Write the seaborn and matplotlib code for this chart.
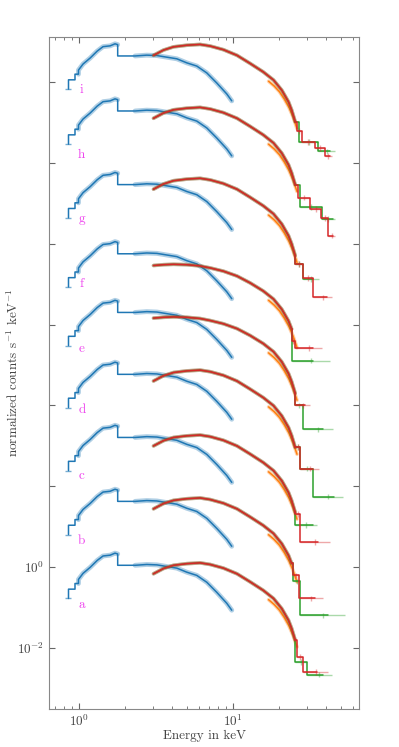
import numpy as np
import matplotlib
matplotlib.use("Agg")
import matplotlib.pyplot as plt
import seaborn as sns

labels = list("abcdefghi")
# log10 shift of every spectrum relative to spectrum a
soft_shift = [0.0, 1.58, 3.16, 4.72, 6.25, 7.70, 9.41, 11.23, 12.59]
hard_shift = [0.0, 1.605, 3.16, 4.765, 6.10, 7.40, 9.506, 11.259, 12.815]
hard_shape = [0, 0, 0, 0, 1, 1, 0, 0, 0]   # which continuum shape each spectrum follows
label_logy = [-0.94, 0.64, 2.25, 3.88, 5.41, 7.01, 8.62, 10.20, 11.80]

# soft band model of spectrum a (keV, log10 counts)
soft_E = [0.853, 0.853, 0.94, 0.94, 0.99, 0.99, 1.06, 1.18, 1.31, 1.43, 1.59, 1.71,
          1.78, 1.78, 2.31, 2.75, 3.2, 3.71, 4.31, 5.0, 5.81, 6.75, 7.84, 9.1, 9.8]
soft_logF = [-0.77, -0.54, -0.54, -0.40, -0.40, -0.30, -0.15, 0.0, 0.17, 0.28, 0.30, 0.35,
             0.33, 0.05, 0.05, 0.07, 0.06, 0.02, -0.02, -0.12, -0.20, -0.37, -0.62, -0.89, -1.06]

# hard band continuum: hard spectra (a-d, g-i) and softer ones (e, f)
hard_E = [3.04, 3.53, 4.1, 5.0, 6.1, 7.1, 8.65, 10.6, 12.9, 15.7, 18.3, 20.7, 22.9, 24.0, 25.3]
hard_logF = [
    [-0.16, -0.03, 0.05, 0.09, 0.11, 0.07, -0.02, -0.16, -0.36, -0.57, -0.77,
     -1.02, -1.31, -1.51, -1.80],
    [0.06, 0.08, 0.09, 0.08, 0.05, 0.0, -0.08, -0.20, -0.37, -0.57, -0.77,
     -1.02, -1.31, -1.51, -1.80],
]
orange_E = [17.0, 18.5, 20.0, 21.5, 23.0, 24.5, 26.0]
orange_logF = [-0.80, -0.92, -1.06, -1.24, -1.44, -1.68, -1.97]

# high energy bins: edges (keV), log10 values, reach of last error bar
green_edges = [[25.3, 30.1, 38.6], [24.5, 27.2, 41.4], [25.3, 33.2], [25.3, 27.2, 33.2, 45.3],
               [25.3, 28.6, 38.6], [24.0, 33.2], [25.3, 28.6, 33.2], [27.2, 37.7, 44.8],
               [26.8, 35.6, 42.6]]
green_vals = [[-2.34, -2.65], [-0.35, -1.19], [1.04], [2.97, 2.44, 1.75],
              [4.0, 3.41], [5.11], [7.50, 7.13], [8.91, 8.61], [10.51, 10.28]]
green_end = [43.7, 53.4, 35.0, 51.8, 44.8, 42.6, 36.0, 45.9, 45.9]
red_edges = [[26.0, 28.6, 35.0], [24.5, 26.8, 34.1], [25.3, 27.2, 35.8], [25.3, 27.2, 33.2],
             [25.3, 29.4], [24.0, 25.3, 33.2], [25.3, 28.6, 33.2, 40.6],
             [26.5, 31.6, 37.3, 41.6, 44.8], [26.0, 27.9, 34.1, 39.6, 42.6]]
red_vals = [[-2.22, -2.59], [-0.20, -0.77], [1.31, 0.63], [2.97, 2.44],
            [4.0], [5.60, 5.42], [7.50, 7.15, 6.67],
            [9.14, 8.86, 8.63, 8.20], [10.79, 10.52, 10.37, 10.17]]
red_end = [41.4, 38.4, 42.6, 36.2, 31.6, 37.7, 43.7, 46.0, 43.7]

blue, orange, green, red = "#1f77b4", "#ff7f0e", "#2ca02c", "#d62728"

sns.set_style("ticks", {"xtick.direction": "in", "ytick.direction": "in"})
plt.rcParams["font.family"] = "serif"
plt.rcParams["font.serif"] = ["cmr10"]
plt.rcParams["mathtext.fontset"] = "cm"
plt.rcParams["axes.formatter.use_mathtext"] = True
plt.rcParams["axes.edgecolor"] = "#888888"
plt.rcParams["text.color"] = "#444444"
plt.rcParams["axes.labelcolor"] = "#444444"
plt.rcParams["xtick.color"] = "#666666"
plt.rcParams["ytick.color"] = "#666666"
plt.rcParams["xtick.labelcolor"] = "#444444"
plt.rcParams["ytick.labelcolor"] = "#444444"

fig = plt.figure(figsize=(3.99, 7.47), dpi=100)
ax = fig.add_axes([0.123, 0.051, 0.777, 0.899])


def line(E, logF, color, lw=1.1, alpha=1.0, ds="default"):
    sns.lineplot(x=np.asarray(E, float), y=10.0 ** np.asarray(logF, float), ax=ax,
                 color=color, linewidth=lw, alpha=alpha, drawstyle=ds,
                 sort=False, estimator=None, legend=False)


def tail(k, edges, vals, end, color):
    E = np.array(hard_E)
    F = np.array(hard_logF[hard_shape[k]]) + hard_shift[k]
    keep = E <= edges[0]
    line(E[keep], F[keep], color, lw=2.6, alpha=0.35)
    line(E[keep], F[keep], color, lw=1.1)
    x = [E[keep][-1]] + edges
    y = [F[keep][-1]] + vals + [vals[-1]]
    line(x, y, color, lw=1.1, ds="steps-post")
    for i, v in enumerate(vals):
        lo = edges[i]
        hi = end if i == len(vals) - 1 else edges[i + 1]
        mid = np.sqrt(lo * hi)
        ax.errorbar([mid], [10 ** v], xerr=[[mid - lo], [hi - mid]],
                    yerr=[[10 ** v - 10 ** (v - 0.07)], [10 ** (v + 0.07) - 10 ** v]],
                    fmt="none", ecolor=color, alpha=0.4, lw=1.0)


for k in range(len(labels)):
    sE = np.array(soft_E)
    sF = np.array(soft_logF) + soft_shift[k]
    line(sE[4:13], sF[4:13], blue, lw=3.5, alpha=0.35)
    line(sE[14:], sF[14:], blue, lw=3.5, alpha=0.35)
    line(sE, sF, blue, lw=1.1)
    ax.errorbar([soft_E[0]], [10 ** sF[0]], xerr=[[0.042], [0.035]], fmt="none",
                ecolor=blue, alpha=0.6, lw=1.0)

    oF = np.array(orange_logF) + hard_shift[k]
    line(orange_E, oF, orange, lw=2.6, alpha=0.35)
    line(orange_E, oF, orange, lw=1.1)

    tail(k, green_edges[k], green_vals[k], green_end[k], green)
    tail(k, red_edges[k], red_vals[k], red_end[k], red)

    ax.text(1.04, 10 ** label_logy[k], labels[k], color="#ee44ee", fontsize=9.5,
            ha="center", va="center")

ax.set_xscale("log")
ax.set_yscale("log")
ax.set_xlim(0.638, 65.8)
ax.set_ylim(10 ** -3.5, 10 ** 13.1)
yt = [10.0 ** p for p in range(-2, 13, 2)]
ax.set_yticks(yt)
ax.set_yticklabels(["$10^{-2}$", "$10^{0}$"] + [""] * (len(yt) - 2))
ax.yaxis.set_minor_locator(matplotlib.ticker.NullLocator())
ax.tick_params(which="both", top=True, right=True, labelsize=9.5)
ax.tick_params(which="major", length=4)
ax.tick_params(which="minor", length=2)
ax.set_xlabel("Energy in keV", fontsize=9.5, labelpad=0.5)
ax.set_ylabel("normalized counts s$^{-1}$ keV$^{-1}$", fontsize=9.5)
ax.yaxis.set_label_coords(-0.092, 0.5)

fig.savefig("out.png", dpi=100)
